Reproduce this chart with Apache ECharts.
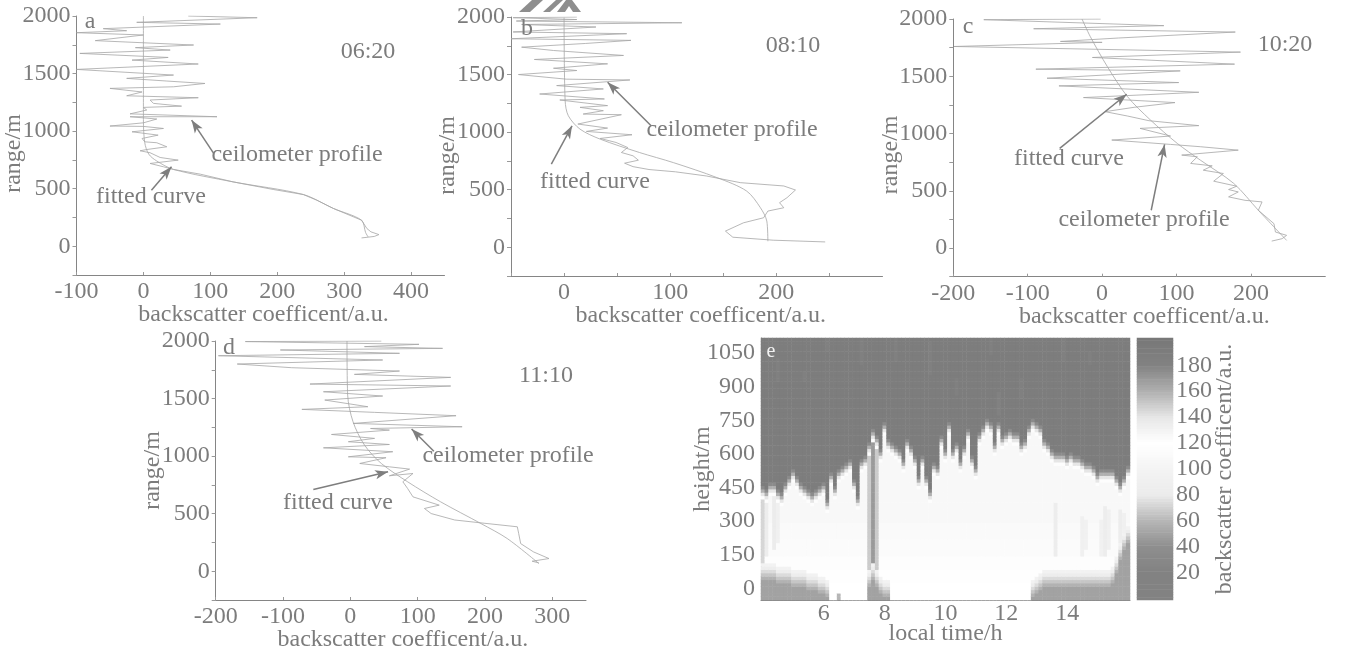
<!DOCTYPE html>
<html><head><meta charset="utf-8">
<style>html,body{margin:0;padding:0;background:#fff}#c{width:1355px;height:648px}</style>
<script src="https://cdn.jsdelivr.net/npm/echarts@6/dist/echarts.min.js"></script>
</head><body><div id="c"></div>
<script>
// ---------- profile data: [backscatter, range] ----------
const profileA=[[326,72],[345,85],[352,101],[340,125],[334,154],[326,226],[314,255],[284,328],[259,400],[239,449],[194,493],[134,559],[85,626],[45,667],[30,690],[10,719],[52,748],[25,771],[10,812],[-5,829],[5,840],[35,864],[20,899],[2,907],[-2,936],[22,965],[-17,994],[30,1023],[0,1041],[-50,1044],[0,1072],[20,1105],[-20,1125],[110,1125],[-20,1150],[5,1183],[0,1206],[57,1217],[15,1241],[10,1270],[82,1290],[-25,1307],[-2,1340],[-50,1371],[45,1385],[92,1414],[35,1435],[-25,1458],[45,1487],[-100,1536],[82,1583],[-17,1617],[37,1640],[-95,1675],[40,1704],[-12,1725],[75,1748],[-72,1786],[0,1835],[-100,1855],[-25,1872],[-60,1890],[115,1930],[-10,1945],[170,1985],[67,2000]];
const fittedA=[[336,80],[332,120],[326,226],[284,328],[239,449],[134,559],[45,667],[20,740],[8,800],[2,900],[0,1100],[0,2000]];

const profileB=[[246,46],[197,61],[159,87],[152,140],[169,212],[188,256],[192,314],[207,343],[203,387],[210,430],[218,497],[207,532],[166,561],[134,619],[105,655],[80,675],[65,700],[57,730],[70,756],[65,794],[54,823],[60,866],[49,910],[34,945],[64,977],[21,1006],[41,1035],[13,1070],[54,1151],[18,1157],[37,1186],[15,1215],[41,1230],[-4,1279],[38,1288],[-23,1331],[37,1375],[-7,1404],[62,1453],[2,1460],[-43,1500],[12,1535],[-10,1555],[41,1593],[-28,1631],[56,1666],[-10,1709],[-40,1738],[20,1770],[63,1797],[-50,1811],[59,1855],[-48,1870],[30,1913],[-40,1935],[111,1950],[-45,1965],[12,1978],[-48,1994],[12,2000]];
const fittedB=[[192,52],[191,227],[185,343],[172,488],[144,605],[103,735],[71,823],[34,939],[15,1026],[4,1142],[1,1273],[0,1994]];

const profileC=[[228,61],[242,82],[248,111],[233,140],[231,213],[210,330],[215,403],[192,417],[170,447],[183,490],[170,511],[181,540],[150,584],[163,651],[136,680],[148,718],[119,739],[128,797],[107,812],[183,855],[132,885],[92,905],[13,943],[92,978],[51,1045],[130,1069],[63,1112],[34,1153],[4,1191],[43,1229],[98,1270],[-25,1314],[130,1360],[-58,1416],[103,1445],[-74,1483],[105,1547],[-89,1562],[178,1606],[-13,1664],[186,1711],[-199,1760],[0,1796],[-56,1804],[22,1834],[179,1886],[-92,1915],[83,1942],[-159,1994],[-2,2000]];
const fittedC=[[248,67],[210,330],[177,564],[132,768],[101,914],[65,1118],[34,1323],[7,1585],[-16,1848],[-27,2000]];

const profileD=[[280,72],[270,87],[295,110],[272,168],[253,240],[250,328],[248,386],[194,420],[155,445],[120,501],[110,545],[132,574],[93,646],[85,719],[78,777],[93,849],[58,829],[88,887],[58,907],[14,936],[53,986],[-3,994],[63,1038],[-40,1072],[58,1101],[-3,1125],[36,1154],[-28,1188],[58,1226],[30,1240],[166,1255],[4,1284],[157,1351],[36,1380],[-72,1406],[26,1429],[-38,1487],[48,1522],[-40,1559],[149,1609],[-60,1626],[149,1684],[6,1710],[73,1739],[-87,1768],[-168,1800],[48,1835],[-196,1872],[73,1893],[-104,1922],[137,1936],[21,1951],[102,1971],[-156,1995],[46,2000]];
const fittedD=[[280,67],[233,284],[194,414],[134,603],[85,777],[46,936],[21,1096],[4,1298],[-4,1530],[-5,2000]];

// ---------- panel e: values per time column, 4:00 to 16:00 every 7.5 min ----------
const timeStart=4, timeStep=0.125;
const cloudBase=[459,449,468,474,446,434,468,504,535,504,474,459,446,425,441,459,468,401,519,459,535,541,563,571,482,407,571,586,646,713,675,615,735,660,655,638,615,571,660,630,586,504,586,496,437,557,541,675,615,741,615,646,580,630,713,586,548,704,727,757,735,652,749,675,704,713,704,690,646,660,727,757,735,727,668,652,615,608,601,608,593,608,593,593,580,563,557,541,519,535,535,535,526,504,474,504,548];
const groundTop=[40,35,30,30,20,20,15,15,5,5,0,0,-5,-10,-15,-20,-30,-40,null,null,null,null,null,null,null,null,null,null,0,30,10,-20,-40,-45,null,null,null,null,null,null,null,null,null,null,null,null,null,null,null,null,null,null,null,null,null,null,null,null,null,null,null,null,null,null,null,null,null,null,null,null,null,-40,-20,-5,5,5,5,5,5,5,5,5,5,5,5,5,5,5,5,5,5,10,20,70,130,170,200];
const heightStart=-45, heightStep=15, heightCount=78;
const aboveValue=190, edgeValues=[176,160,140,122];
const bodyTops=[30,90,150,225,300,2000], bodyValues=[120,118,116,113,110,108];
const groundValues=[50,58,66,74,84,96];
// localized streaks below the layer top: time, low height, high height, value
const streakTime =[7.5,7.625,7.75,4,4.125,4.375,4.5,6.5,13.625,14.5,14.625,15.125,15.25,15.375,15.75,15.875];
const streakLow  =[30,30,30,100,150,180,200,-50,150,150,180,150,150,180,150,180];
const streakHigh =[700,700,700,450,450,420,400,-30,380,320,300,300,360,350,350,330];
const streakValue=[68,46,68,72,84,82,90,60,84,90,94,94,84,92,84,90];
// faint lighter specks in the dark upper part
const speckTime =[4.5,5.375,7.25,8.375,9.5,10.375,11.5,11.75,12.5,13.875,14.75,6.125];
const speckLow  =[930,930,1000,1020,960,870,1050,780,850,1020,1000,1060];
const speckHigh =[1030,970,1110,1110,1100,930,1110,870,930,1110,1060,1110];
const speckValue=[185,185,185,185,184,185,185,183,185,185,185,185];

// colour bar levels
const barLevels=[0,2,4,6,8,10,12,14,16,18,20,22,24,26,28,30,32,34,36,38,40,42,44,46,48,50,52,54,56,58,60,62,64,66,68,70,72,74,76,78,80,82,84,86,88,90,92,94,96,98,100,102,104,106,108,110,112,114,116,118,120,122,124,126,128,130,132,134,136,138,140,142,144,146,148,150,152,154,156,158,160,162,164,166,168,170,172,174,176,178,180,182,184,186,188,190,192,194,196,198,200];
const grayScale=['#828282','#828282','#8e8e8e','#b6b6b6','#ebebeb','#f4f4f4','#ffffff','#e6e6e6','#b0b0b0','#828282','#787878'];

// ---------- labels ----------
const xName='backscatter coefficent/a.u.', rangeName='range/m';
const panelTexts=[['a',90,22],['b',527,29],['c',968,27],['d',229,348],['06:20',368,52],['08:10',793,46],['10:20',1285,45],['11:10',546,376],
 ['ceilometer profile',297,155],['fitted curve',151,197],['ceilometer profile',732,130],['fitted curve',595,182],['fitted curve',1069,159],['ceilometer profile',1144,220],['ceilometer profile',508,456],['fitted curve',338,503]];
const arrowsA=[[[105,806],[72,1096]],[[12,487],[42,690]]];
const arrowsB=[[[82,1055],[41,1433]],[[-12,721],[7.5,1055]]];
const arrowsC=[[[-57,870],[33,1343]],[[66,330],[84,905]]];
const arrowsD=[[[124,1043],[91,1235]],[[-55,710],[56,864]]];

// ---------- layout ----------
const INK='#7c7c7c', FONT='"Liberation Serif","Times New Roman",serif', FS=24;
const panels=[
 {rect:[76.5,16,368,259],xr:[-100,450],xi:100,p:profileA,f:fittedA,a:arrowsA,nameShift:-16,xShift:6},
 {rect:[511,17,371.5,259],xr:[-50,300],xi:50,p:profileB,f:fittedB,a:arrowsB,nameShift:-18,xShift:8},
 {rect:[953.3,19,372,257.7],xr:[-200,300],xi:100,p:profileC,f:fittedC,a:arrowsC,nameShift:-14,xShift:10},
 {rect:[215.7,341,370.3,259],xr:[-200,350],xi:100,p:profileD,f:fittedD,a:arrowsD,nameShift:0,xShift:4}
];
const axisLine={lineStyle:{color:'#858585',width:1}};
const grid=[],xAxis=[],yAxis=[],series=[];
panels.forEach((P,i)=>{
 grid.push({left:P.rect[0],top:P.rect[1],width:P.rect[2],height:P.rect[3],containLabel:false,outerBoundsMode:'none'});
 xAxis.push({type:'value',gridIndex:i,min:P.xr[0],max:P.xr[1],interval:P.xi,splitLine:{show:false},
  axisLine:Object.assign({onZero:false},axisLine),axisTick:{inside:true,length:3,lineStyle:{color:'#999'}},
  axisLabel:{color:INK,fontFamily:FONT,fontSize:FS,margin:5,showMaxLabel:false,formatter:v=>(v%100===0?String(v):'')},
  name:xName,nameLocation:'middle',nameGap:28,nameMoveOverlap:false,nameTextStyle:{color:INK,fontFamily:FONT,fontSize:FS,padding:[0,0,0,P.xShift]}});
 yAxis.push({type:'value',gridIndex:i,min:-250,max:2000,interval:250,splitLine:{show:false},
  axisLine:Object.assign({onZero:false},axisLine),axisTick:{length:4,lineStyle:{color:'#999'}},
  axisLabel:{color:INK,fontFamily:FONT,fontSize:FS,margin:6,formatter:v=>(v>=0&&v%500===0?String(v):'')},
  name:rangeName,nameLocation:'middle',nameGap:51,nameMoveOverlap:false,nameTextStyle:{color:INK,fontFamily:FONT,fontSize:FS,padding:[0,0,0,P.nameShift]}});
 series.push({type:'line',name:'ceilometer profile',xAxisIndex:i,yAxisIndex:i,data:P.p,showSymbol:false,symbol:'none',
  lineStyle:{color:'#a6a6a6',width:0.8},silent:true,animation:false});
 series.push({type:'line',name:'fitted curve',xAxisIndex:i,yAxisIndex:i,data:P.f,showSymbol:false,symbol:'none',smooth:0.3,
  lineStyle:{color:'#a6a6a6',width:0.8},silent:true,animation:false,
  markLine:{silent:true,animation:false,symbol:['none','arrow'],symbolSize:[7,13],label:{show:false},
   lineStyle:{color:'#7e7e7e',width:1.5,type:'solid'},
   data:P.a.map(s=>[{coord:s[0]},{coord:s[1]}])}});
});

// heat panel
const timeCats=cloudBase.map((_,i)=>String(timeStart+i*timeStep));
const heightCats=[]; for(let r=0;r<heightCount;r++) heightCats.push(String(heightStart+r*heightStep));
const heatCells=[];
cloudBase.forEach((base,c)=>{
 const t=timeStart+c*timeStep, g=groundTop[c];
 for(let r=0;r<heightCount;r++){
  const h=heightStart+r*heightStep;
  let v;
  if(h>base){
   v=aboveValue;
   speckTime.forEach((st,k)=>{ if(st===t&&h>=speckLow[k]&&h<=speckHigh[k]) v=speckValue[k]; });
  } else {
   const depth=Math.floor((base-h)/heightStep);
   if(depth<edgeValues.length) v=edgeValues[depth];
   else {
    v=bodyValues[bodyTops.findIndex(top=>h<top)];
    streakTime.forEach((st,k)=>{ if(st===t&&h>=streakLow[k]&&h<=Math.min(streakHigh[k],base)) v=streakValue[k]; });
    if(g!==null&&h<g+groundValues.length*heightStep){
     const d=h<=g?0:Math.ceil((h-g)/heightStep);
     if(d<groundValues.length) v=groundValues[d];
    }
   }
  }
  heatCells.push([c,r,v]);
 }
});
const H=grid.length;
grid.push({left:761,top:338,width:369,height:262,containLabel:false,outerBoundsMode:'none'});
xAxis.push({type:'category',gridIndex:H,data:timeCats,splitArea:{show:false},axisLine:axisLine,
 axisTick:{inside:true,length:4,alignWithLabel:true,interval:(i,v)=>[6,8,10,12,14].includes(+v),lineStyle:{color:'#777'}},
 axisLabel:{color:INK,fontFamily:FONT,fontSize:FS,margin:2,interval:(i,v)=>[6,8,10,12,14].includes(+v)},
 name:'local time/h',nameLocation:'middle',nameGap:22,nameMoveOverlap:false,nameTextStyle:{color:INK,fontFamily:FONT,fontSize:FS}});
yAxis.push({type:'category',gridIndex:H,data:heightCats,splitArea:{show:false},axisLine:axisLine,
 axisTick:{inside:true,length:4,alignWithLabel:true,interval:(i,v)=>(+v)%150===0&&+v>=0,lineStyle:{color:'#777'}},
 axisLabel:{color:INK,fontFamily:FONT,fontSize:FS,margin:6,interval:(i,v)=>(+v)%150===0&&+v>=0},
 name:'height/m',nameLocation:'middle',nameGap:46,nameMoveOverlap:false,nameTextStyle:{color:INK,fontFamily:FONT,fontSize:FS}});
const heatIndex=series.length;
series.push({type:'heatmap',xAxisIndex:H,yAxisIndex:H,data:heatCells,silent:true,animation:false,progressive:0,itemStyle:{borderWidth:0},emphasis:{disabled:true}});

// colour bar
const B=grid.length;
grid.push({left:1137,top:338,width:36,height:262,containLabel:false,outerBoundsMode:'none'});
xAxis.push({type:'category',gridIndex:B,data:['bar'],show:false});
yAxis.push({type:'category',gridIndex:B,data:barLevels.map(String),position:'right',splitArea:{show:false},axisLine:{show:false},
 axisTick:{show:false},
 axisLabel:{color:INK,fontFamily:FONT,fontSize:FS,margin:3,interval:(i,v)=>(+v)%20===0&&+v>0&&+v<200},
 name:xName,nameLocation:'middle',nameRotate:90,nameGap:40,nameMoveOverlap:false,nameTextStyle:{color:INK,fontFamily:FONT,fontSize:FS}});
series.push({type:'heatmap',xAxisIndex:B,yAxisIndex:B,data:barLevels.map((v,i)=>[0,i,v]),silent:true,animation:false,progressive:0,itemStyle:{borderWidth:0},emphasis:{disabled:true}});

const graphic=panelTexts.map(t=>({type:'text',x:t[1],y:t[2],silent:true,z:50,
 style:{text:t[0],fill:INK,font:FS+'px '+FONT,textAlign:'center',textVerticalAlign:'middle'}}));
graphic.push({type:'text',x:771,y:352,silent:true,z:50,style:{text:'e',fill:'#f2f2f2',font:'20px '+FONT,textAlign:'center',textVerticalAlign:'middle'}});
[[[519,12],[530,12],[543,0],[532,0]],[[543,12],[550,12],[563,0],[556,0]],[[557,12],[566,0],[572,0],[581,12],[573,12],[569,6],[565,12]]]
 .forEach(pts=>graphic.push({type:'polygon',silent:true,shape:{points:pts},style:{fill:'#8e8e8e'}}));

const chart=echarts.init(document.getElementById('c'),null,{renderer:'canvas'});
chart.setOption({backgroundColor:'#fff',animation:false,tooltip:{show:false},grid,xAxis,yAxis,series,graphic,
 visualMap:{type:'continuous',show:false,min:0,max:200,dimension:2,seriesIndex:[heatIndex,heatIndex+1],inRange:{color:grayScale}}});
</script></body></html>
